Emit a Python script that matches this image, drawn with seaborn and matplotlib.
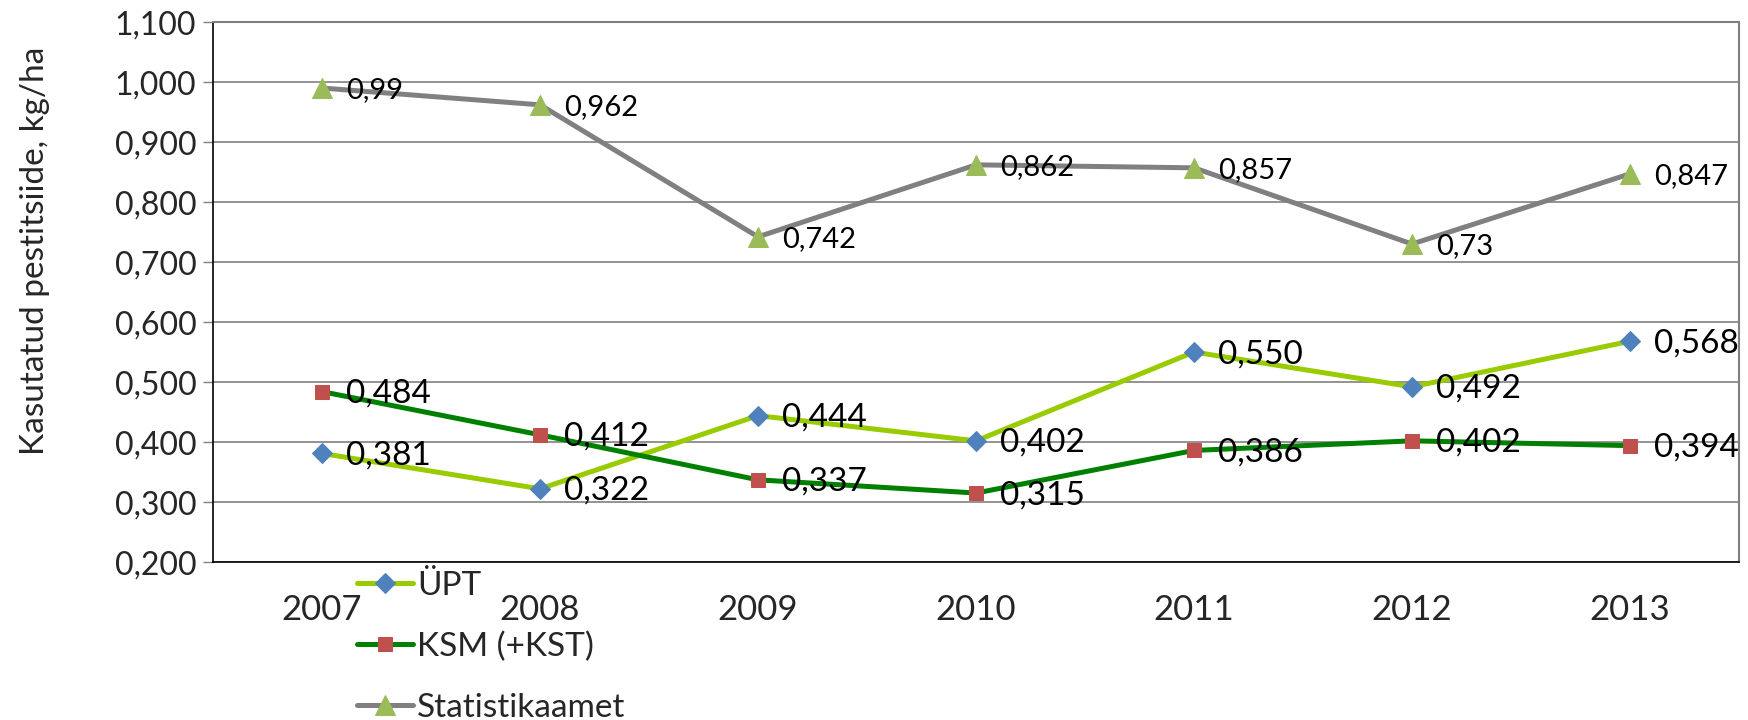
import numpy as np
import pandas as pd
import matplotlib
matplotlib.use("Agg")
import matplotlib.pyplot as plt
import seaborn as sns

# ── data ──
years = ["2007", "2008", "2009", "2010", "2011", "2012", "2013"]
upt = [0.381, 0.322, 0.444, 0.402, 0.550, 0.492, 0.568]
ksm = [0.484, 0.412, 0.337, 0.315, 0.386, 0.402, 0.394]
stat = [0.99, 0.962, 0.742, 0.862, 0.857, 0.73, 0.847]
stat_labels = ["0,99", "0,962", "0,742", "0,862", "0,857", "0,73", "0,847"]
y_ticks = [0.2, 0.3, 0.4, 0.5, 0.6, 0.7, 0.8, 0.9, 1.0, 1.1]

sns.set_style("white")
plt.rcParams["font.family"] = ["Lato", "DejaVu Sans"]

df = pd.DataFrame({"pos": np.arange(len(years)), "upt": upt, "ksm": ksm, "stat": stat})

fig = plt.figure(figsize=(17.49, 7.2), dpi=100)
ax = fig.add_axes([0.1218, 0.2194, 0.8725, 0.75])

series = [
    ("upt", "ÜPT", "#99CC00", "D", "#4F81BD", 10, None, 24),
    ("ksm", "KSM (+KST)", "#008000", "s", "#C0504D", 10, None, 24),
    ("stat", "Statistikaamet", "#808080", "^", "#9BBB59", 14, stat_labels, 21),
]

for col, name, lc, mk, mc, ms, labs, fs in series:
    sns.lineplot(data=df, x="pos", y=col, ax=ax, color=lc, linewidth=3.6,
                 marker=mk, markersize=ms, markerfacecolor=mc, markeredgecolor=mc,
                 label=name, zorder=3)
    for i, v in enumerate(df[col]):
        txt = labs[i] if labs is not None else f"{v:.3f}".replace(".", ",")
        ax.annotate(txt, (i, v), xytext=(17, -1.5), textcoords="offset points",
                    ha="left", va="center", fontsize=fs, color="black", zorder=4)

# axes
ax.set_xlim(-0.5, len(years) - 0.5)
ax.set_ylim(0.2, 1.1)
ax.set_yticks(y_ticks)
ax.set_yticklabels([f"{t:.3f}".replace(".", ",") for t in y_ticks], fontsize=23)
ax.set_xticks(range(len(years)))
ax.set_xticklabels(years, fontsize=25)
ax.set_xticks(np.arange(-0.5, len(years)), minor=True)
ax.tick_params(axis="x", which="major", length=0, pad=23)
ax.tick_params(axis="x", which="minor", length=7, width=1.2, color="#808080", direction="out")
ax.tick_params(axis="y", length=7, width=1, color="#808080", direction="out", pad=5, left=True)
ax.yaxis.grid(True, color="#808080", linewidth=1.2)
ax.set_axisbelow(True)
ax.set_xlabel("")
ax.set_ylabel("Kasutatud pestitsiide, kg/ha", fontsize=24)
ax.yaxis.set_label_coords(-0.107, 0.576)

for s in ["left", "bottom"]:
    ax.spines[s].set_color("black")
    ax.spines[s].set_linewidth(1.2)
for s in ["top", "right"]:
    ax.spines[s].set_color("#808080")
    ax.spines[s].set_linewidth(1.5)

ax.legend(loc="upper left", bbox_to_anchor=(0.204, 0.207), bbox_transform=fig.transFigure,
          frameon=False, fontsize=24, handlelength=1.7, handletextpad=0.1,
          labelspacing=0.92, borderpad=0, borderaxespad=0)

fig.savefig("out.png", dpi=100)
plt.close(fig)
